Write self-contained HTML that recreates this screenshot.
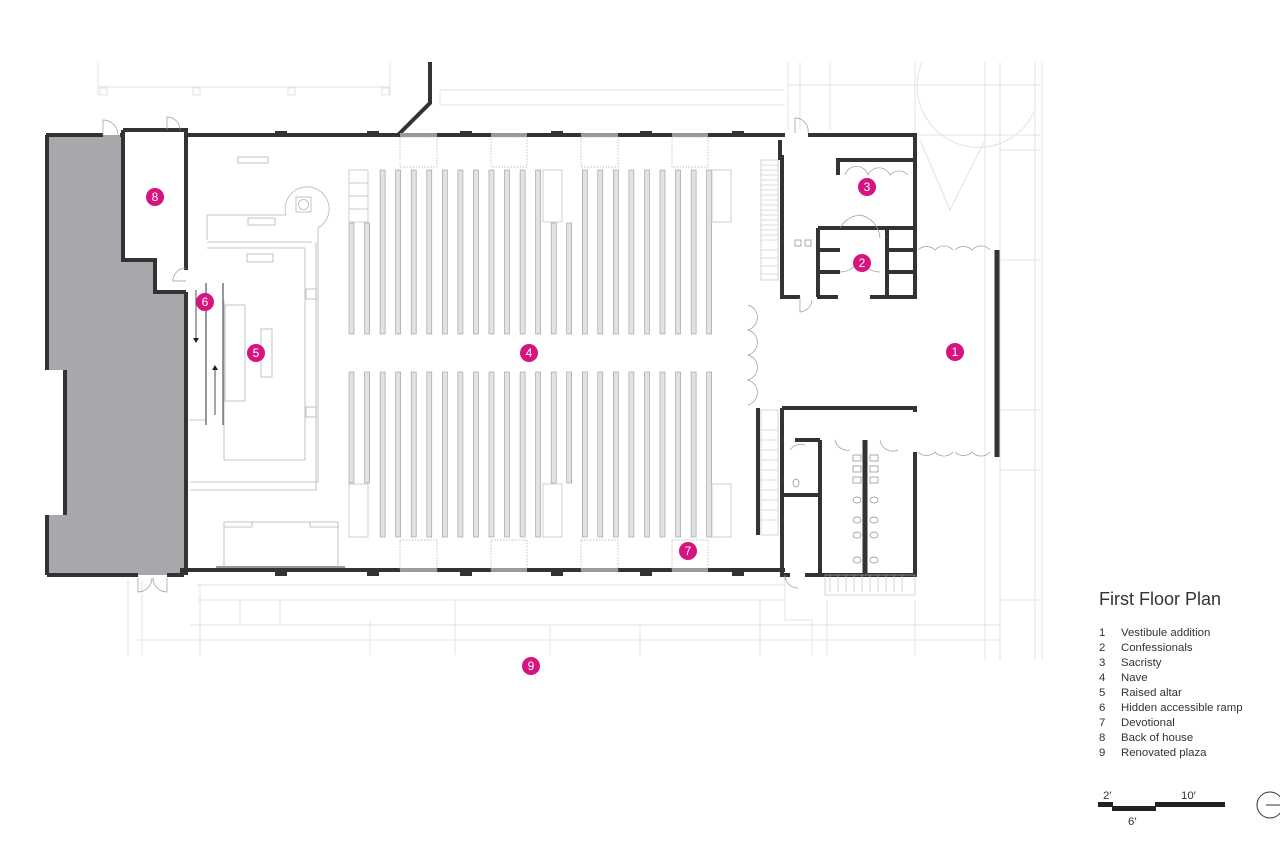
<!DOCTYPE html>
<html><head><meta charset="utf-8"><style>
html,body{margin:0;padding:0;background:#fff;}
svg{display:block;}
.t{font-family:"Liberation Sans",sans-serif;fill:#333;}
</style></head><body>
<svg width="1280" height="853" viewBox="0 0 1280 853" xmlns="http://www.w3.org/2000/svg">
<defs>
<g id="pt"><rect x="0" y="170" width="5" height="164" fill="#e2e2e2" stroke="#999" stroke-width="0.6"/></g>
<g id="ps"><rect x="0" y="223" width="5" height="111" fill="#e2e2e2" stroke="#999" stroke-width="0.6"/></g>
<g id="pb"><rect x="0" y="372" width="5" height="165" fill="#e2e2e2" stroke="#999" stroke-width="0.6"/></g>
<g id="pbs"><rect x="0" y="372" width="5" height="111" fill="#e2e2e2" stroke="#999" stroke-width="0.6"/></g>
</defs>
<g stroke="#e3e3e3" stroke-width="1" fill="none">
<path d="M98 62V95M390 62V95M98 87H390"/>
<rect x="100" y="88" width="7" height="7"/><rect x="193" y="88" width="7" height="7"/><rect x="288" y="88" width="7" height="7"/><rect x="382" y="88" width="7" height="7"/>
<path d="M440 90H785M440 90V105H785"/>
<path d="M788 62V130M800 62V130M830 62V130M915 62V135M985 62V660M1000 62V660M1035 62V660M1042 62V660"/>
<path d="M788 85H1040M915 135H1040M1000 150H1040M1000 260H1040M1000 410H1040M1000 470H1040M1000 600H1040"/>
<path d="M922 62A60 60 0 0 0 1035 110"/>
<path d="M920 140L950 210L985 140"/>
<path d="M128 580V655M142 580V655M200 585V655M197 600H785M197 585H785M190 625H1000M135 640H1000M240 600V625M280 600V625M370 620V655M455 600V655M550 625V655M640 625V655M760 600V655M812 620V655M827 600V655M915 600V655M985 600V655M200 620V625M785 580V620H812"/>
</g>
<path d="M47 135H123V260H155V292H186V575H47V515H65V370H47Z" fill="#a7a8ab"/>
<path d="M123 130H186V270M186 292H155V260H123V130" stroke="#333" stroke-width="4" fill="none"/>
<g stroke="#333" stroke-width="4" fill="none">
<path d="M46 135H103M120 135H123M186 135H398L430 103V62"/>
<path d="M398 135H785"/>
<path d="M186 292V575"/>
<path d="M47 575H138M167 575H182V570H785"/>
<path d="M65 370V515"/>
<path d="M47 515V575M47 370V135"/>
<path d="M808 135H915V297H870M838 297H817M782 155V297H800"/>
<path d="M915 250V297"/>
<path d="M782 408H915V412M782 408V575H790M805 575H915V452"/>
<path d="M997 250V457" stroke-width="5"/>
<path d="M758 408V535M780 140V160"/>
<path d="M865 440V575" stroke-width="5"/>
<path d="M820 440V575M795 440H820M782 495H820"/>
<path d="M818 228H915M818 228V297M818 250H840M818 272H840M887 228V297M887 250H915M887 272H915M838 175V160H915"/>
</g>
<g stroke="#999" stroke-width="4">
<path d="M400 135H437M491 135H527M581 135H618M672 135H708M400 570H437M491 570H527M581 570H618M672 570H708"/>
</g>
<g fill="#333">
<rect x="275" y="131" width="12" height="6"/><rect x="367" y="131" width="12" height="6"/><rect x="460" y="131" width="12" height="6"/><rect x="551" y="131" width="12" height="6"/><rect x="640" y="131" width="12" height="6"/><rect x="732" y="131" width="12" height="6"/>
<rect x="275" y="570" width="12" height="6"/><rect x="367" y="570" width="12" height="6"/><rect x="460" y="570" width="12" height="6"/><rect x="551" y="570" width="12" height="6"/><rect x="640" y="570" width="12" height="6"/><rect x="732" y="570" width="12" height="6"/>
</g>
<g stroke="#aaa" stroke-width="0.7" fill="none" stroke-dasharray="1.5 1.5">
<rect x="400" y="137" width="37" height="30"/><rect x="491" y="137" width="36" height="30"/><rect x="581" y="137" width="37" height="30"/><rect x="672" y="137" width="36" height="30"/>
<rect x="400" y="540" width="37" height="30"/><rect x="491" y="540" width="36" height="30"/><rect x="581" y="540" width="37" height="30"/><rect x="672" y="540" width="36" height="30"/>
</g>
<use href="#ps" x="349"/><use href="#ps" x="364.6"/><use href="#pt" x="380.1"/><use href="#pt" x="395.7"/><use href="#pt" x="411.2"/><use href="#pt" x="426.8"/><use href="#pt" x="442.3"/><use href="#pt" x="457.9"/><use href="#pt" x="473.4"/><use href="#pt" x="489"/><use href="#pt" x="504.5"/><use href="#pt" x="520.1"/><use href="#pt" x="535.6"/><use href="#ps" x="551.2"/><use href="#ps" x="566.7"/><use href="#pt" x="582.3"/><use href="#pt" x="597.8"/><use href="#pt" x="613.4"/><use href="#pt" x="628.9"/><use href="#pt" x="644.5"/><use href="#pt" x="660"/><use href="#pt" x="675.6"/><use href="#pt" x="691.1"/><use href="#pt" x="706.7"/>
<use href="#pbs" x="349"/><use href="#pbs" x="364.6"/><use href="#pb" x="380.1"/><use href="#pb" x="395.7"/><use href="#pb" x="411.2"/><use href="#pb" x="426.8"/><use href="#pb" x="442.3"/><use href="#pb" x="457.9"/><use href="#pb" x="473.4"/><use href="#pb" x="489"/><use href="#pb" x="504.5"/><use href="#pb" x="520.1"/><use href="#pb" x="535.6"/><use href="#pbs" x="551.2"/><use href="#pbs" x="566.7"/><use href="#pb" x="582.3"/><use href="#pb" x="597.8"/><use href="#pb" x="613.4"/><use href="#pb" x="628.9"/><use href="#pb" x="644.5"/><use href="#pb" x="660"/><use href="#pb" x="675.6"/><use href="#pb" x="691.1"/><use href="#pb" x="706.7"/>
<g stroke="#bbb" stroke-width="0.7" fill="none">
<rect x="349" y="170" width="19" height="52"/><path d="M349 183H368M349 196H368M349 209H368"/>
<rect x="543" y="170" width="19" height="52"/><rect x="712" y="170" width="19" height="52"/>
<rect x="349" y="484" width="19" height="53"/><rect x="543" y="484" width="19" height="53"/><rect x="712" y="484" width="19" height="53"/>
</g>
<g stroke="#b5b5b5" stroke-width="0.8" fill="none">
<rect x="238" y="157" width="30" height="6"/>
<path d="M207 215V240M207 215H286A22 22 0 1 1 318 228V482H190M190 490H316V242M207 242H312M207 248H305V460H224M305 248"/>
<rect x="296" y="197" width="15" height="15"/><circle cx="303.5" cy="204.5" r="5"/>
<rect x="248" y="218" width="27" height="7"/>
<rect x="247" y="254" width="26" height="8"/>
<rect x="306" y="289" width="10" height="10"/><rect x="306" y="407" width="10" height="10"/>
<rect x="225" y="305" width="20" height="96"/><rect x="261" y="329" width="11" height="48"/>
<path d="M224 460V300M189 420H206"/>
<rect x="224" y="522" width="114" height="45"/><path d="M224 527H252V522M310 522V527H338"/>
</g>
<path d="M206 283V425M223 283V425" stroke="#777" stroke-width="1.5"/>
<path d="M196 290V340M215 415V368" stroke="#222" stroke-width="0.8"/>
<path d="M193 338L196 343L199 338ZM212 370L215 365L218 370Z" fill="#222"/>
<path d="M216 567H345" stroke="#999" stroke-width="2"/>
<g stroke="#bbb" stroke-width="0.6" fill="none">
<rect x="761" y="160" width="17" height="120"/><path d="M761 165H778M761 170H778M761 175H778M761 180H778M761 185H778M761 190H778M761 195H778M761 200H778M761 205H778M761 210H778M761 215H778M761 220H778M761 225H778M761 230H778M761 235H778M761 240H778M761 250H778M761 258H778M761 266H778M761 274H778"/>
<rect x="761" y="410" width="17" height="125"/><path d="M761 430H778M761 440H778M761 450H778M761 460H778M761 470H778M761 480H778M761 490H778M761 500H778M761 510H778M761 520H778"/>
<rect x="825" y="575" width="90" height="20"/><path d="M830 575V592M838 575V592M846 575V592M854 575V592M862 575V592M870 575V592M878 575V592M886 575V592M894 575V592M902 575V592"/>
</g>
<g stroke="#999" stroke-width="0.7" fill="none">
<path d="M103 135V120A15 15 0 0 1 118 135M167 130V117A13 13 0 0 1 180 130M186 268A13 13 0 0 0 173 281H186"/>
<path d="M138 578V592A14 14 0 0 0 152 578M167 578V592A14 14 0 0 1 153 578"/>
<path d="M795 133V118A13 13 0 0 1 808 133M785 580V575A13 13 0 0 0 798 588"/>
<path d="M918 250A12 12 0 0 1 935 250A12 12 0 0 1 953 250M955 250A12 12 0 0 1 972 250A12 12 0 0 1 990 250"/>
<path d="M918 452A12 12 0 0 0 935 452A12 12 0 0 0 953 452M955 452A12 12 0 0 0 972 452A12 12 0 0 0 990 452"/>
<path d="M748 305A13 13 0 0 1 748 330A13 13 0 0 1 748 355A13 13 0 0 1 748 380A13 13 0 0 1 748 405"/>
<path d="M845 175A12 12 0 0 1 868 175A12 12 0 0 1 890 175A12 12 0 0 1 908 175"/>
<path d="M840 228A25 25 0 0 1 860 215A25 25 0 0 1 880 238M840 272A20 20 0 0 0 860 255M880 272A20 20 0 0 1 860 255"/>
<path d="M800 297V312A13 13 0 0 0 812 300M790 450A13 13 0 0 1 805 445M835 440A13 13 0 0 0 850 450M880 440A13 13 0 0 0 898 450"/>
</g>
<g stroke="#888" stroke-width="0.7" fill="#fff">
<rect x="853" y="455" width="8" height="6"/><rect x="853" y="466" width="8" height="6"/><rect x="853" y="477" width="8" height="6"/>
<rect x="870" y="455" width="8" height="6"/><rect x="870" y="466" width="8" height="6"/><rect x="870" y="477" width="8" height="6"/>
<ellipse cx="857" cy="500" rx="4" ry="3"/><ellipse cx="857" cy="520" rx="4" ry="3"/><ellipse cx="857" cy="535" rx="4" ry="3"/><ellipse cx="857" cy="560" rx="4" ry="3"/>
<ellipse cx="874" cy="500" rx="4" ry="3"/><ellipse cx="874" cy="520" rx="4" ry="3"/><ellipse cx="874" cy="535" rx="4" ry="3"/><ellipse cx="874" cy="560" rx="4" ry="3"/>
<ellipse cx="796" cy="483" rx="3" ry="4"/><rect x="795" y="240" width="6" height="6"/><rect x="805" y="240" width="6" height="6"/>
</g>
<g fill="#d6137f">
<circle cx="155" cy="197" r="9"/><circle cx="205" cy="302" r="9"/><circle cx="256" cy="353" r="9"/><circle cx="529" cy="353" r="9"/><circle cx="955" cy="352" r="9"/><circle cx="862" cy="263" r="9"/><circle cx="867" cy="187" r="9"/><circle cx="688" cy="551" r="9"/><circle cx="531" cy="666" r="9"/>
</g>
<g font-family="Liberation Sans, sans-serif" font-size="12" fill="#fff" text-anchor="middle">
<text x="155" y="201">8</text><text x="205" y="306">6</text><text x="256" y="357">5</text><text x="529" y="357">4</text><text x="955" y="356">1</text><text x="862" y="267">2</text><text x="867" y="191">3</text><text x="688" y="555">7</text><text x="531" y="670">9</text>
</g>
<text class="t" x="1099" y="605" font-size="18">First Floor Plan</text>
<g class="t" font-size="11.4">
<text x="1099" y="636">1</text><text x="1121" y="636">Vestibule addition</text>
<text x="1099" y="651">2</text><text x="1121" y="651">Confessionals</text>
<text x="1099" y="666">3</text><text x="1121" y="666">Sacristy</text>
<text x="1099" y="681">4</text><text x="1121" y="681">Nave</text>
<text x="1099" y="696">5</text><text x="1121" y="696">Raised altar</text>
<text x="1099" y="711">6</text><text x="1121" y="711">Hidden accessible ramp</text>
<text x="1099" y="726">7</text><text x="1121" y="726">Devotional</text>
<text x="1099" y="741">8</text><text x="1121" y="741">Back of house</text>
<text x="1099" y="756">9</text><text x="1121" y="756">Renovated plaza</text>
<text x="1103" y="799">2′</text><text x="1181" y="799">10′</text><text x="1128" y="825">6′</text>
</g>
<rect x="1098" y="802" width="15" height="5" fill="#222"/>
<rect x="1112" y="806" width="44" height="5" fill="#222"/>
<rect x="1155" y="802" width="70" height="5" fill="#222"/>
<circle cx="1270" cy="805" r="13" fill="none" stroke="#333" stroke-width="1"/>
<path d="M1266 805H1280" stroke="#333" stroke-width="1"/>
</svg>
</body></html>
